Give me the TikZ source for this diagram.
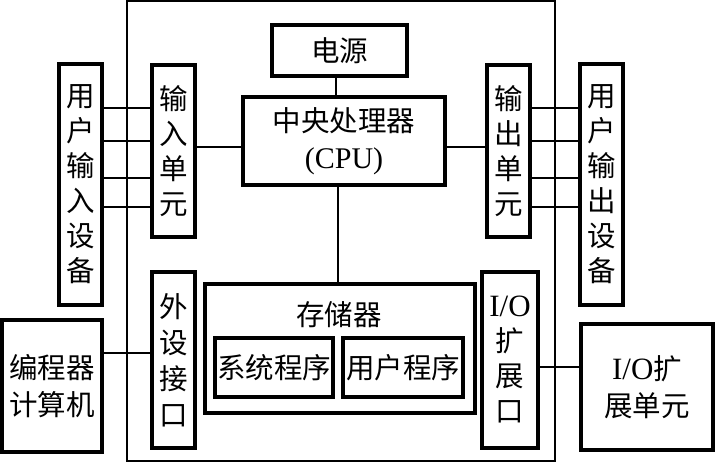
\documentclass[tikz,border=0pt]{standalone}
\usepackage{fontspec}
\setmainfont{Liberation Serif}
\newfontfamily\cjk{Noto Sans CJK SC}
\newcommand\lat{\rmfamily}
\begin{document}
\begin{tikzpicture}[x=1pt,y=-1pt,
  box/.style={draw, line width=3.2pt, inner sep=0pt, align=center,
    font=\cjk\fontsize{28.5}{35}\selectfont},
  hbox/.style={box, font=\cjk\fontsize{28.5}{37}\selectfont},
  txt/.style={inner sep=0pt, align=center, font=\cjk\fontsize{28.5}{37}\selectfont},
  thinline/.style={line width=1.3pt}]
\useasboundingbox (0,0) rectangle (717,463);
% outer frame
\node[draw, thinline, inner sep=0pt, minimum width=428pt, minimum height=460pt] (frame) at (341,231) {};
% boxes
\node[box, minimum width=43pt, minimum height=241pt] (uin) at (80.5,184.5) {用\\户\\输\\入\\设\\备};
\node[box, minimum width=43pt, minimum height=172pt] (inu) at (173.5,151) {输\\入\\单\\元};
\node[hbox, minimum width=135pt, minimum height=51pt] (power) at (339.5,50.5) {电源};
\node[hbox, minimum width=202pt, minimum height=88pt] (cpu) at (344,141) {中央处理器\\{\lat\fontsize{30}{37}\selectfont (CPU)}};
\node[box, minimum width=43pt, minimum height=172pt] (outu) at (508.5,151) {输\\出\\单\\元};
\node[box, minimum width=43pt, minimum height=241pt] (uout) at (601.5,184.5) {用\\户\\输\\出\\设\\备};
\node[box, minimum width=43pt, minimum height=176pt, font=\cjk\fontsize{28.5}{36}\selectfont] (periph) at (173.5,360) {外\\设\\接\\口};
\node[box, minimum width=270pt, minimum height=129pt] (mem) at (340,348.5) {};
\node[txt] (memlabel) at (339,315) {存储器};
\node[hbox, minimum width=118pt, minimum height=59pt] (sys) at (274,367.5) {系统程序};
\node[hbox, minimum width=120pt, minimum height=59pt] (usr) at (403,367.5) {用户程序};
\node[box, minimum width=56pt, minimum height=176pt] (ioport) at (510,360) {{\lat\fontsize{31}{35}\selectfont I/O}\\扩\\展\\口};
\node[hbox, minimum width=132pt, minimum height=126pt] (iounit) at (647,387) {{\lat\fontsize{31}{37}\selectfont I/O}扩\\展单元};
\node[hbox, minimum width=100pt, minimum height=132pt] (prog) at (52,386) {编程器\\计算机};
% helper coordinates
\coordinate (r1) at (0,108);
\coordinate (r2) at (0,141);
\coordinate (r3) at (0,178);
\coordinate (r4) at (0,207);
\coordinate (rc) at (0,147);
\coordinate (rp) at (0,353);
\coordinate (ri) at (0,367);
\coordinate (cpw) at (336,0);
\coordinate (cmem) at (338,0);
% connectors
\foreach \r in {r1,r2,r3,r4}{
  \draw[thinline] (uin.east |- \r) -- (inu.west |- \r);
  \draw[thinline] (outu.east |- \r) -- (uout.west |- \r);
}
\draw[thinline] (inu.east |- rc) -- (cpu.west |- rc);
\draw[thinline] (cpu.east |- rc) -- (outu.west |- rc);
\draw[thinline] (power.south -| cpw) -- (cpu.north -| cpw);
\draw[thinline] (cpu.south -| cmem) -- (mem.north -| cmem);
\draw[thinline] (prog.east |- rp) -- (periph.west |- rp);
\draw[thinline] (ioport.east |- ri) -- (iounit.west |- ri);
\end{tikzpicture}
\end{document}
